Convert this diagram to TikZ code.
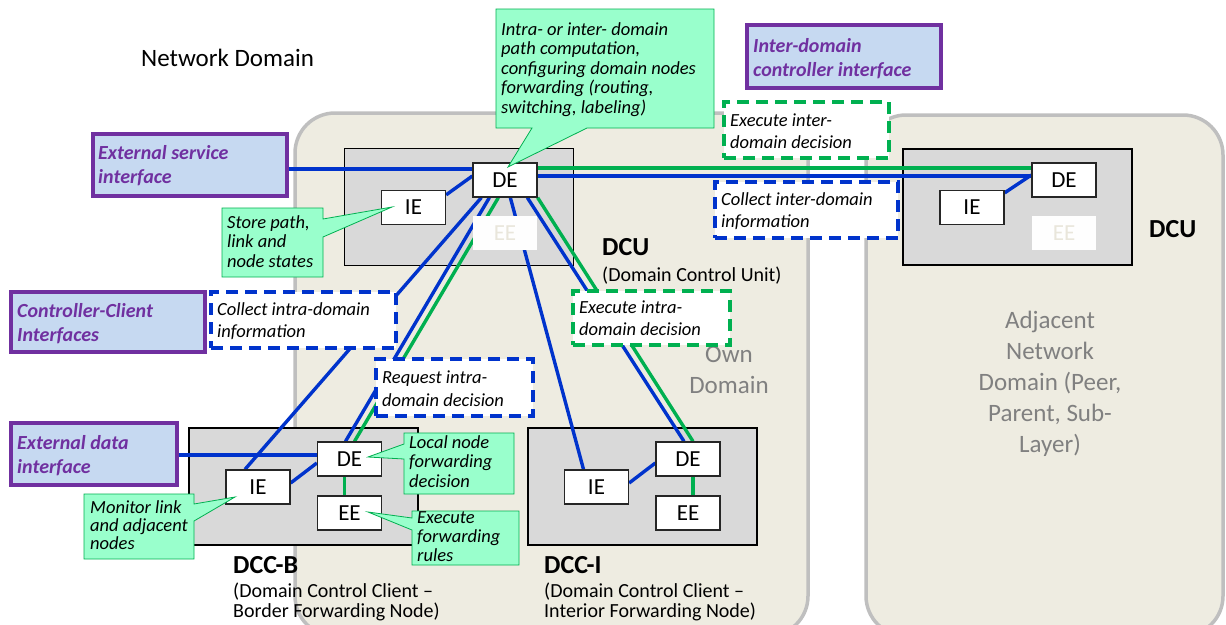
\documentclass[tikz,border=0pt]{standalone}
\usepackage{fontspec}
\setmainfont{Carlito}
\usetikzlibrary{calc}

\definecolor{lnblue}{RGB}{0,51,204}
\definecolor{lngreen}{RGB}{0,176,80}
\definecolor{ifpurple}{RGB}{112,48,160}
\definecolor{iffill}{RGB}{198,217,241}
\definecolor{mint}{RGB}{153,255,204}
\definecolor{domfill}{RGB}{238,236,225}
\definecolor{domedge}{RGB}{191,191,191}
\definecolor{boxgray}{RGB}{217,217,217}
\definecolor{domtext}{RGB}{128,128,128}
\definecolor{ghosttext}{RGB}{233,230,219}

\newcommand\setfs[2]{\fontsize{#1}{#2}\selectfont}
\newcommand\capstrut{\rule{0pt}{1em}}

\pgfdeclarelayer{back}
\pgfdeclarelayer{wires}
\pgfsetlayers{back,wires,main}

\tikzset{
  netpanel/.style={fill=domfill, draw=domedge, line width=3.5pt, rounded corners=40pt},
  unitbox/.style={draw=black, fill=boxgray, line width=1.2pt, inner sep=0,
                  minimum width=229pt, minimum height=117pt},
  elem/.style={draw=black!85, fill=white, line width=1.3pt, inner sep=0,
               minimum width=64pt, minimum height=34pt, font=\setfs{23}{23}},
  ghost/.style={elem, draw=none, fill=white!96!domfill, text=ghosttext},
  wire/.style={line width=3.4pt},
  bwire/.style={wire, draw=lnblue},
  gwire/.style={wire, draw=lngreen},
  iface/.style={draw=ifpurple, fill=iffill, line width=3.5pt, inner sep=0},
  lbl/.style={inner sep=0, anchor=north west, align=left},
  iftext/.style={lbl, text=ifpurple, font=\setfs{20}{24}\bfseries\itshape},
  dbox/.style={fill=white, line width=3.5pt, dash pattern=on 12pt off 7pt, inner sep=0},
  bluedash/.style={dbox, draw=lnblue},
  greendash/.style={dbox, draw=lngreen},
  callout/.style={fill=mint, draw=lngreen, line width=0.8pt, line join=miter},
  note/.style={lbl, font=\setfs{18.5}{19.5}\itshape},
  boxnote/.style={lbl, font=\setfs{18.5}{22.5}\itshape},
  unitname/.style={lbl, font=\setfs{26}{26}\bfseries},
  unitdesc/.style={lbl, font=\setfs{20}{20.5}},
  domname/.style={inner sep=0, anchor=north, align=center, text=domtext,
                  font=\setfs{25}{31}},
}

\begin{document}
\begin{tikzpicture}[x=1pt, y=-1pt]
\useasboundingbox (0,0) rectangle (1226,624);

% ---------- domains and unit frames ----------
\begin{pgfonlayer}{back}
  \begin{scope}
    \clip (0,0) rectangle (1226,624);
    \draw[netpanel] (295,113) rectangle (808,636);
    \draw[netpanel] (866,115) rectangle (1223,636);
  \end{scope}
  \node[unitbox] (dcuBox) at (459,207) {};
  \node[unitbox, minimum height=116pt] (rBox) at (1017.5,207) {};
  \node[unitbox] (bBox) at (303.5,486.5) {};
  \node[unitbox] (iBox) at (642.5,486.5) {};
\end{pgfonlayer}

\node[lbl, font=\setfs{25}{25}] (netDom) at (141,41) {\capstrut Network Domain};
\node[domname] (ownDom) at (729,337) {\capstrut Own\\Domain};
\node[domname] (adjDom) at (1050,303)
  {\capstrut Adjacent\\Network\\Domain (Peer,\\Parent, Sub-\\Layer)};

% ---------- elements ----------
\node[elem] (dcuDE) at (505,180) {DE};
\node[elem] (dcuIE) at (413.5,207.5) {IE};
\node[ghost] (dcuEE) at (505,233) {EE};

\node[elem] (rDE) at (1064,180) {DE};
\node[elem] (rIE) at (972,207.5) {IE};
\node[ghost] (rEE) at (1064,233) {EE};

\node[elem] (bDE) at (349.5,459) {DE};
\node[elem] (bIE) at (258,487) {IE};
\node[elem] (bEE) at (349.5,513) {EE};

\node[elem] (iDE) at (688,459) {DE};
\node[elem] (iIE) at (596.5,487) {IE};
\node[elem] (iEE) at (688,513) {EE};

% ---------- interface boxes ----------
\node[iface, minimum width=194pt, minimum height=62pt] (esi) at (190,165) {};
\node[iface, minimum width=194pt, minimum height=63pt] (idc) at (844,56.5) {};
\node[iface, minimum width=194pt, minimum height=60pt] (cci) at (108,322) {};
\node[iface, minimum width=166pt, minimum height=62pt] (edi) at (94,454) {};

% ---------- connectors ----------
\coordinate (svcIn) at ($(dcuDE.west)+(0,-11)$);
\coordinate (dataIn) at ($(bDE.west)+(0,-4)$);
\coordinate (gOut) at ($(dcuDE.east)+(0,-12)$);
\coordinate (bOut) at ($(dcuDE.east)+(0,-4)$);
\begin{pgfonlayer}{wires}
  \draw[bwire] (esi.east |- svcIn) -- (svcIn);
  \draw[bwire] (edi.east |- dataIn) -- (dataIn);
  \draw[gwire] (gOut) -- (rDE.west |- gOut);
  \draw[bwire] (bOut) -- (rDE.west |- bOut);

  \draw[bwire] ($(dcuDE.south west)+(9,0)$)  -- ($(bIE.north)+(-13,0)$);
  \draw[bwire] ($(dcuDE.south west)+(17,0)$) -- ($(bDE.north)+(-4,0)$);
  \draw[gwire] ($(dcuDE.south west)+(26,0)$) -- ($(bDE.north)+(5,0)$);
  \draw[bwire] ($(dcuDE.south west)+(38,0)$) -- ($(iIE.north)+(-13,0)$);
  \draw[bwire] ($(dcuDE.south west)+(55,0)$) -- ($(iDE.north)+(-4,0)$);
  \draw[gwire] (dcuDE.south east) -- ($(iDE.north)+(5,0)$);

  \draw[bwire] ($(dcuIE.north east)+(0,5)$) -- ($(dcuDE.west)+(0,-4)$);
  \draw[bwire] ($(rIE.north east)+(0,3)$) -- ($(rDE.west)+(0,-5)$);
  \draw[bwire] ($(bIE.east)+(0,-4)$) -- ($(bDE.west)+(0,4)$);
  \draw[bwire] ($(iIE.east)+(0,-4)$) -- ($(iDE.west)+(0,4)$);
  \draw[gwire] ($(bDE.south)+(-5,0)$) -- ($(bEE.north)+(-5,0)$);
  \draw[gwire] ($(iDE.south)+(5,0)$) -- ($(iEE.north)+(5,0)$);
\end{pgfonlayer}

% ---------- interface texts ----------
\node[iftext] (esiText) at (98,139) {\capstrut External service\\interface};
\node[iftext] (idcText) at (753,32) {\capstrut Inter-domain\\controller interface};
\node[iftext] (cciText) at (17,297) {\capstrut Controller-Client\\Interfaces};
\node[iftext] (ediText) at (17,429) {\capstrut External data\\interface};

% ---------- dashed decision boxes ----------
\node[greendash, minimum width=165pt, minimum height=56pt] (eid) at (806.5,130) {};
\node[boxnote] (eidText) at (730,107.5) {\capstrut Execute inter-\\domain decision};
\node[bluedash, minimum width=183pt, minimum height=56pt] (cid) at (806.5,210) {};
\node[boxnote] (cidText) at (721,186.5) {\capstrut Collect inter-domain\\information};
\node[bluedash, minimum width=185pt, minimum height=56pt] (cad) at (303.5,320) {};
\node[boxnote, font=\setfs{18.5}{22}\itshape] (cadText) at (217,296.5)
  {\capstrut Collect intra-domain\\information};
\node[greendash, minimum width=157pt, minimum height=54pt] (exi) at (651.5,318) {};
\node[boxnote, font=\setfs{18.5}{22}\itshape] (exiText) at (579,294.5)
  {\capstrut Execute intra-\\domain decision};
\node[bluedash, minimum width=157pt, minimum height=57pt] (rid) at (454.5,387.5) {};
\node[boxnote, font=\setfs{18.5}{23}\itshape] (ridText) at (382,364.5)
  {\capstrut Request intra-\\domain decision};

% ---------- callouts ----------
\draw[callout] (496,9) -- (714,9) -- (714,128) -- (587,128) -- (508,167)
  -- (532,128) -- (496,128) -- cycle;
\node[note] (pathText) at (501,16.5) {\capstrut Intra- or inter- domain\\path computation,\\configuring domain nodes\\forwarding (routing,\\switching, labeling)};

\draw[callout] (222,208) -- (323,208) -- (323,219) -- (392,207) -- (323,237)
  -- (323,277) -- (222,277) -- cycle;
\node[note] (storeText) at (227,209.5) {\capstrut Store path,\\link and\\node states};

\draw[callout] (84,494) -- (194,494) -- (194,504) -- (235,497) -- (194,521)
  -- (194,559) -- (84,559) -- cycle;
\node[note, font=\setfs{18.5}{18}\itshape] (monText) at (90,494.5)
  {\capstrut Monitor link\\and adjacent\\nodes};

\draw[callout] (404,433) -- (514,433) -- (514,494) -- (404,494) -- (404,459)
  -- (368,457) -- (404,444) -- cycle;
\node[note] (localText) at (409,429.5) {\capstrut Local node\\forwarding\\decision};

\draw[callout] (412,511) -- (519,511) -- (519,565) -- (412,565) -- (412,530)
  -- (368,512) -- (412,518) -- cycle;
\node[note, font=\setfs{18.5}{19}\itshape] (rulesText) at (417,504.5)
  {\capstrut Execute\\forwarding\\rules};

% ---------- unit names ----------
\node[unitname] (dcuName) at (602,229) {\capstrut DCU};
\node[unitdesc] (dcuDesc) at (602,261) {\capstrut (Domain Control Unit)};
\node[unitname] (rName) at (1149,211) {\capstrut DCU};
\node[unitname] (bName) at (233,547) {\capstrut DCC-B};
\node[unitdesc] (bDesc) at (233,577) {\capstrut (Domain Control Client --\\Border Forwarding Node)};
\node[unitname] (iName) at (544,547) {\capstrut DCC-I};
\node[unitdesc] (iDesc) at (544,577) {\capstrut (Domain Control Client --\\Interior Forwarding Node)};
\end{tikzpicture}
\end{document}
